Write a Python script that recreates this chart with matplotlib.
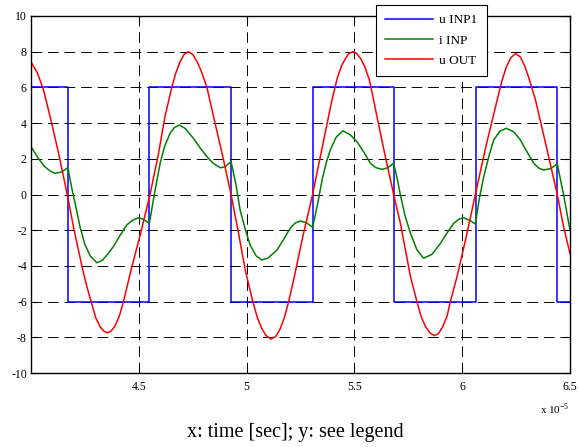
import matplotlib
matplotlib.use("Agg")
import matplotlib.pyplot as plt

plt.rcParams['font.family'] = ['Liberation Serif', 'DejaVu Serif']
plt.rcParams['mathtext.fontset'] = 'custom'
plt.rcParams['mathtext.rm'] = 'Liberation Serif'
plt.rcParams['axes.unicode_minus'] = False

# time axis in units of 1e-5 s
# u INP1: square wave, switching instants and levels
t_sq = [4.0, 4.171, 4.549, 4.928, 5.306, 5.685, 6.063, 6.442, 6.5]
u_sq = [6, -6, 6, -6, 6, -6, 6, -6, -6]

# i INP
t_i = [4.0, 4.03, 4.06, 4.09, 4.111, 4.14, 4.171, 4.19, 4.21, 4.227, 4.25, 4.275,
       4.305, 4.33, 4.355, 4.382, 4.41, 4.444, 4.47, 4.498, 4.52, 4.549,
       4.575, 4.599, 4.62, 4.645, 4.665, 4.689, 4.715, 4.753, 4.785, 4.816,
       4.845, 4.877, 4.90, 4.928, 4.95, 4.97, 4.995, 5.017, 5.045, 5.071,
       5.10, 5.141, 5.17, 5.202, 5.225, 5.249, 5.28, 5.306, 5.33, 5.35,
       5.37, 5.388, 5.415, 5.447, 5.48, 5.512, 5.545, 5.574, 5.60, 5.628,
       5.655, 5.682, 5.70, 5.713, 5.735, 5.76, 5.79, 5.821, 5.86, 5.899,
       5.93, 5.961, 5.985, 6.007, 6.035, 6.061, 6.08, 6.10, 6.125, 6.146,
       6.175, 6.205, 6.24, 6.27, 6.30, 6.332, 6.355, 6.378, 6.41, 6.441,
       6.47, 6.5]
i_inp = [2.68, 2.1, 1.6, 1.3, 1.19, 1.25, 1.5, 0.3, -0.8, -1.8, -2.8, -3.45,
         -3.82, -3.7, -3.35, -2.92, -2.35, -1.71, -1.45, -1.30, -1.38, -1.61,
         0.2, 1.75, 2.7, 3.43, 3.75, 3.89, 3.7, 3.15, 2.6, 2.12,
         1.75, 1.5, 1.55, 1.84, 0.6, -0.87, -2.0, -2.85, -3.45, -3.67,
         -3.55, -3.11, -2.55, -1.89, -1.6, -1.48, -1.6, -1.84, -0.5, 0.81,
         1.8, 2.49, 3.2, 3.57, 3.35, 2.96, 2.35, 1.75, 1.5, 1.41,
         1.5, 1.75, 0.8, 0.0, -1.2, -2.17, -3.1, -3.57, -3.35, -2.74,
         -2.15, -1.61, -1.38, -1.30, -1.45, -1.65, -0.2, 1.0, 2.2, 3.05,
         3.55, 3.71, 3.5, 3.05, 2.4, 1.75, 1.48, 1.37, 1.45, 1.71,
         0.0, -1.99]

# u OUT
t_out = [4.0, 4.03, 4.057, 4.09, 4.13, 4.168,
         4.20, 4.24, 4.26, 4.279, 4.30, 4.32, 4.337, 4.354, 4.372, 4.39, 4.41,
         4.429, 4.464, 4.51, 4.552,
         4.59, 4.622, 4.653, 4.67, 4.69, 4.71, 4.73, 4.75, 4.77, 4.79, 4.816,
         4.846, 4.89, 4.928,
         4.96, 4.995, 5.029, 5.05, 5.07, 5.09, 5.113, 5.135, 5.155, 5.175,
         5.195, 5.218, 5.26, 5.306,
         5.35, 5.396, 5.42, 5.44, 5.46, 5.475, 5.493, 5.51, 5.53, 5.55, 5.57,
         5.589, 5.635, 5.682,
         5.713, 5.76, 5.79, 5.81, 5.83, 5.85, 5.871, 5.89, 5.91, 5.93, 5.945,
         5.976, 6.02, 6.061,
         6.11, 6.162, 6.185, 6.205, 6.225, 6.247, 6.27, 6.29, 6.31, 6.34,
         6.39, 6.441, 6.47, 6.5]
u_out = [7.42, 6.8, 5.9, 4.3, 2.2, 0.0,
         -2.0, -4.23, -5.2, -6.0, -6.9, -7.4, -7.65, -7.75, -7.65, -7.35, -6.8,
         -6.0, -4.23, -2.1, 0.0,
         2.2, 4.4, 6.0, 6.75, 7.4, 7.85, 8.0, 7.85, 7.45, 6.9, 6.0,
         4.4, 2.1, 0.0,
         -2.0, -4.3, -6.0, -6.9, -7.5, -7.9, -8.1, -7.95, -7.55, -6.9,
         -6.0, -4.79, -2.4, 0.0,
         2.6, 5.29, 6.5, 7.2, 7.65, 7.9, 8.0, 7.9, 7.6, 7.1, 6.4,
         5.29, 2.6, 0.0,
         -1.6, -4.6, -6.0, -6.85, -7.4, -7.75, -7.9, -7.8, -7.4, -6.8, -6.0,
         -4.6, -2.3, 0.0,
         2.7, 5.29, 6.4, 7.15, 7.65, 7.9, 7.7, 7.2, 6.5, 5.29,
         2.7, 0.0, -1.8, -3.3]

x_ticks = [4.5, 5, 5.5, 6, 6.5]
x_ticklabels = ['4.5', '5', '5.5', '6', '6.5']
y_ticks = [-10, -8, -6, -4, -2, 0, 2, 4, 6, 8, 10]

fig = plt.figure(figsize=(5.79, 4.47), dpi=100)
ax = fig.add_axes([31/579, 1-373/447, (570-31)/579, (373-16)/447])

ax.plot(t_sq, u_sq, color=(0, 0, 1), lw=1.1, drawstyle='steps-post', label='u INP1')
ax.plot(t_i, i_inp, color=(0, 0.5, 0), lw=1.1, label='i INP')
ax.plot(t_out, u_out, color=(1, 0, 0), lw=1.1, label='u OUT')

ax.set_xlim(4.0, 6.5)
ax.set_ylim(-10, 10)
ax.set_xticks(x_ticks)
ax.set_xticklabels(x_ticklabels)
ax.set_yticks(y_ticks)
ax.tick_params(direction='in', length=4, width=0.8, labelsize=8.5, top=True, right=True)
ax.tick_params(axis='x', pad=6)
ax.tick_params(axis='y', pad=3)
for s in ax.spines.values():
    s.set_linewidth(1.0)
ax.grid(True, color='black', lw=0.7, linestyle=(0, (11, 6)))

ax.text(1.0, -0.08, r'x 10$^{-5}$', transform=ax.transAxes, ha='right', va='top', fontsize=8)
fig.text(295/579, 1-432/447, 'x: time [sec]; y: see legend', ha='center', va='center', fontsize=14.5)

leg = fig.legend(loc='upper left', bbox_to_anchor=(376/579, 1-5/447), borderaxespad=0,
                 fontsize=9.5, frameon=True, fancybox=False, edgecolor='black', framealpha=1,
                 handlelength=3.6, borderpad=0.7, labelspacing=0.6, handletextpad=0.5)
leg.get_frame().set_linewidth(0.8)

fig.savefig('out.png', dpi=100)
